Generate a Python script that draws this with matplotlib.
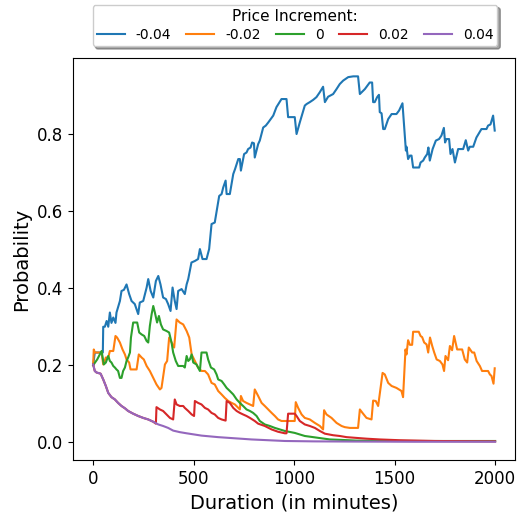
import matplotlib
matplotlib.use("Agg")
import matplotlib.pyplot as plt

# price increment -0.04
t_a = [0, 8, 48, 50, 58, 67, 75, 83, 91, 100, 111, 116, 133, 141, 153, 166, 179, 191, 207, 224,
       232, 249, 266, 274, 286, 299, 312, 324, 335, 348, 362, 373, 385, 395, 406, 415, 423, 440,
       456, 465, 473, 489, 506, 522, 531, 544, 564, 577, 589, 605, 627, 639, 647, 659, 664, 680,
       697, 706, 722, 730, 735, 751, 763, 771, 783, 791, 800, 804, 821, 829, 846, 859, 871, 896,
       912, 924, 937, 962, 970, 1003, 1012, 1028, 1053, 1062, 1078, 1095, 1111, 1128, 1144, 1153,
       1169, 1194, 1211, 1227, 1244, 1269, 1294, 1318, 1327, 1352, 1376, 1388, 1393, 1401, 1413,
       1422, 1426, 1435, 1443, 1451, 1468, 1485, 1509, 1522, 1539, 1556, 1559, 1567, 1576, 1584,
       1592, 1622, 1629, 1642, 1650, 1662, 1668, 1675, 1689, 1705, 1721, 1733, 1745, 1751, 1758,
       1771, 1778, 1788, 1800, 1816, 1841, 1854, 1866, 1874, 1891, 1907, 1932, 1957, 1965, 1977,
       1990, 1998]
p_a = [0.2, 0.233, 0.233, 0.30, 0.30, 0.315, 0.30, 0.337, 0.31, 0.324, 0.31, 0.337, 0.367, 0.393,
       0.396, 0.41, 0.385, 0.367, 0.359, 0.333, 0.363, 0.367, 0.402, 0.424, 0.393, 0.376, 0.419,
       0.432, 0.41, 0.376, 0.372, 0.359, 0.341, 0.402, 0.367, 0.346, 0.393, 0.398, 0.385, 0.41,
       0.424, 0.467, 0.471, 0.476, 0.502, 0.476, 0.476, 0.502, 0.567, 0.571, 0.64, 0.645, 0.662,
       0.68, 0.645, 0.645, 0.697, 0.71, 0.736, 0.736, 0.706, 0.749, 0.753, 0.762, 0.766, 0.779,
       0.777, 0.74, 0.775, 0.784, 0.818, 0.823, 0.831, 0.849, 0.871, 0.881, 0.892, 0.892, 0.845,
       0.845, 0.801, 0.831, 0.875, 0.879, 0.884, 0.89, 0.897, 0.91, 0.924, 0.884, 0.898, 0.905,
       0.918, 0.931, 0.94, 0.949, 0.951, 0.951, 0.905, 0.918, 0.935, 0.935, 0.884, 0.884, 0.897,
       0.903, 0.858, 0.855, 0.814, 0.814, 0.84, 0.853, 0.853, 0.862, 0.881, 0.758, 0.768, 0.736,
       0.745, 0.745, 0.714, 0.714, 0.727, 0.732, 0.74, 0.749, 0.766, 0.732, 0.762, 0.784, 0.788,
       0.797, 0.817, 0.779, 0.788, 0.788, 0.749, 0.762, 0.727, 0.762, 0.762, 0.785, 0.758, 0.768,
       0.768, 0.792, 0.814, 0.814, 0.823, 0.826, 0.849, 0.81]

# price increment -0.02
t_b = [0, 3, 8, 42, 50, 63, 75, 83, 100, 111, 119, 133, 146, 158, 166, 179, 186, 216, 227, 241,
       252, 266, 282, 299, 315, 332, 340, 357, 368, 378, 390, 403, 415, 431, 448, 465, 478, 490,
       506, 522, 539, 556, 572, 589, 605, 622, 639, 655, 672, 689, 705, 722, 730, 735, 746, 763,
       780, 796, 804, 821, 838, 854, 871, 888, 904, 920, 937, 1003, 1008, 1020, 1037, 1053, 1078,
       1103, 1128, 1144, 1149, 1161, 1186, 1211, 1236, 1252, 1277, 1318, 1327, 1340, 1360, 1385,
       1393, 1406, 1418, 1430, 1440, 1451, 1468, 1485, 1509, 1522, 1534, 1542, 1554, 1559, 1567,
       1576, 1587, 1592, 1620, 1629, 1637, 1647, 1659, 1667, 1676, 1687, 1697, 1709, 1725, 1738,
       1746, 1753, 1766, 1775, 1786, 1796, 1811, 1836, 1849, 1861, 1869, 1886, 1896, 1908, 1924,
       1935, 1965, 1974, 1982, 1992, 1998]
p_b = [0.202, 0.241, 0.233, 0.233, 0.202, 0.22, 0.22, 0.237, 0.237, 0.276, 0.272, 0.259, 0.241,
       0.228, 0.215, 0.207, 0.189, 0.189, 0.228, 0.22, 0.215, 0.198, 0.185, 0.167, 0.15, 0.137,
       0.141, 0.202, 0.211, 0.272, 0.259, 0.246, 0.319, 0.311, 0.306, 0.289, 0.272, 0.228, 0.211,
       0.194, 0.185, 0.185, 0.176, 0.154, 0.15, 0.133, 0.124, 0.115, 0.107, 0.102, 0.098, 0.089,
       0.085, 0.12, 0.107, 0.102, 0.098, 0.094, 0.137, 0.12, 0.102, 0.094, 0.085, 0.076, 0.068,
       0.059, 0.055, 0.055, 0.104, 0.089, 0.072, 0.063, 0.059, 0.05, 0.042, 0.033, 0.083, 0.072,
       0.063, 0.05, 0.042, 0.039, 0.037, 0.037, 0.085, 0.076, 0.063, 0.059, 0.108, 0.107, 0.094,
       0.141, 0.18, 0.176, 0.154, 0.146, 0.141, 0.137, 0.133, 0.117, 0.241, 0.228, 0.265, 0.253,
       0.253, 0.287, 0.287, 0.276, 0.273, 0.259, 0.254, 0.233, 0.272, 0.25, 0.233, 0.215, 0.211,
       0.202, 0.185, 0.224, 0.213, 0.25, 0.239, 0.276, 0.241, 0.241, 0.215, 0.207, 0.246, 0.233,
       0.233, 0.211, 0.198, 0.185, 0.185, 0.176, 0.172, 0.152, 0.192]

# price increment 0
t_c = [0, 20, 42, 47, 53, 63, 75, 83, 91, 100, 108, 116, 124, 133, 141, 149, 158, 166, 174, 183,
       188, 199, 219, 229, 241, 254, 266, 274, 282, 291, 299, 307, 318, 327, 337, 348, 365, 378,
       390, 398, 411, 423, 448, 456, 465, 473, 481, 490, 498, 514, 531, 539, 564, 572, 586, 602,
       614, 622, 639, 652, 664, 680, 697, 714, 730, 746, 763, 780, 796, 813, 829, 854, 879, 904,
       929, 954, 1003, 1028, 1053, 1095, 1136, 1178, 1227, 1310, 1500, 1700, 2000]
p_c = [0.2, 0.215, 0.237, 0.22, 0.202, 0.207, 0.224, 0.211, 0.207, 0.198, 0.194, 0.189, 0.185,
       0.167, 0.167, 0.185, 0.194, 0.211, 0.22, 0.233, 0.272, 0.311, 0.311, 0.285, 0.28, 0.276,
       0.263, 0.259, 0.302, 0.333, 0.354, 0.337, 0.311, 0.328, 0.306, 0.293, 0.289, 0.285, 0.259,
       0.233, 0.211, 0.198, 0.198, 0.194, 0.224, 0.211, 0.215, 0.228, 0.207, 0.202, 0.185, 0.233,
       0.233, 0.215, 0.194, 0.189, 0.176, 0.163, 0.159, 0.15, 0.141, 0.133, 0.124, 0.111, 0.102,
       0.094, 0.085, 0.081, 0.076, 0.068, 0.055, 0.046, 0.042, 0.037, 0.033, 0.029, 0.024, 0.02,
       0.016, 0.013, 0.01, 0.007, 0.006, 0.004, 0.003, 0.003, 0.003]

# price increment 0.02
t_d = [0, 8, 17, 37, 50, 63, 75, 91, 108, 124, 141, 158, 174, 199, 224, 249, 274, 299, 312, 315,
       332, 348, 365, 382, 398, 406, 415, 431, 448, 456, 473, 490, 502, 506, 522, 539, 556, 572,
       589, 605, 622, 639, 659, 664, 680, 697, 714, 730, 746, 763, 780, 804, 821, 854, 888, 920,
       954, 962, 970, 1003, 1012, 1028, 1053, 1078, 1103, 1128, 1153, 1194, 1227, 1261, 1310,
       1360, 1426, 1526, 1700, 2000]
p_d = [0.202, 0.185, 0.181, 0.178, 0.163, 0.146, 0.128, 0.117, 0.111, 0.102, 0.094, 0.088, 0.081,
       0.074, 0.068, 0.063, 0.059, 0.053, 0.048, 0.091, 0.085, 0.081, 0.072, 0.063, 0.059, 0.111,
       0.098, 0.094, 0.094, 0.089, 0.081, 0.072, 0.068, 0.107, 0.102, 0.098, 0.089, 0.085, 0.076,
       0.072, 0.063, 0.059, 0.056, 0.107, 0.102, 0.089, 0.081, 0.076, 0.072, 0.068, 0.063, 0.055,
       0.048, 0.042, 0.033, 0.027, 0.023, 0.023, 0.074, 0.074, 0.068, 0.055, 0.046, 0.042, 0.037,
       0.029, 0.022, 0.018, 0.016, 0.013, 0.011, 0.009, 0.007, 0.005, 0.003, 0.002]

# price increment 0.04
t_e = [0, 8, 17, 37, 50, 63, 75, 91, 108, 124, 141, 158, 174, 199, 224, 249, 274, 299, 324, 348,
       373, 398, 431, 465, 539, 622, 705, 788, 871, 954, 1100, 1300, 1600, 2000]
p_e = [0.202, 0.185, 0.181, 0.178, 0.163, 0.146, 0.128, 0.117, 0.111, 0.102, 0.094, 0.088, 0.081,
       0.074, 0.068, 0.063, 0.059, 0.053, 0.046, 0.042, 0.037, 0.03, 0.026, 0.023, 0.017, 0.013,
       0.01, 0.007, 0.005, 0.003, 0.002, 0.0015, 0.001, 0.001]

labels = ["-0.04", "-0.02", "0", "0.02", "0.04"]

fig = plt.figure(figsize=(5.22, 5.14), dpi=100)
ax = fig.add_axes([0.14, 0.105, 0.847, 0.782])

ax.plot(t_a, p_a, label=labels[0])
ax.plot(t_b, p_b, label=labels[1])
ax.plot(t_c, p_c, label=labels[2])
ax.plot(t_d, p_d, label=labels[3])
ax.plot(t_e, p_e, label=labels[4])

ax.set_xlabel("Duration (in minutes)", fontsize=14)
ax.set_ylabel("Probability", fontsize=14)
ax.tick_params(labelsize=12)
ax.legend(title="Price Increment:", ncol=5, loc="upper center", bbox_to_anchor=(0.502, 1.15),
          shadow=True, fontsize=10, title_fontsize=11, columnspacing=1.1,
          borderpad=0.3, labelspacing=0.3)

plt.savefig("out.png")
